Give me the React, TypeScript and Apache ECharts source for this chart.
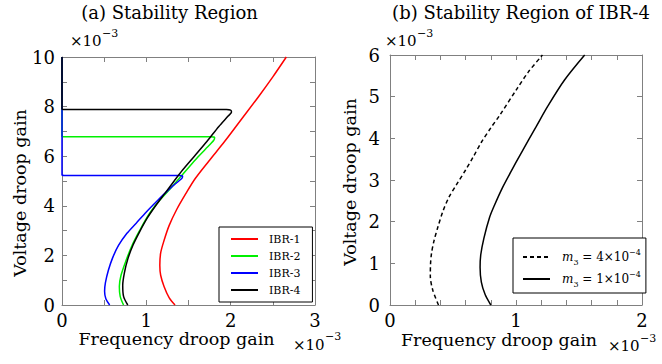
import React, { useEffect, useRef } from 'react';
import * as echarts from 'echarts';

// All values in units of 1e-3 (x: frequency droop gain, y: voltage droop gain)
const ibr1: number[][] = [
  [1.34, 0], [1.27, 0.3], [1.21, 0.75], [1.17, 1.2], [1.16, 1.6], [1.17, 2.1], [1.21, 2.6],
  [1.27, 3.2], [1.36, 3.85], [1.47, 4.5], [1.58, 5.1], [1.74, 5.8], [1.93, 6.6], [2.13, 7.5],
  [2.33, 8.4], [2.5, 9.2], [2.66, 10],
];
const ibr2: number[][] = [
  [0, 10], [0, 6.8], [0, 6.78], [0.03, 6.78], [1.76, 6.78], [1.81, 6.75], [1.8, 6.64], [1.7, 6.28],
  [1.58, 5.85], [1.44, 5.3], [1.3, 4.75], [1.16, 4.23], [1.03, 3.65], [0.92, 3.0], [0.83, 2.4],
  [0.76, 1.8], [0.7, 1.2], [0.68, 0.75], [0.69, 0.35], [0.73, 0],
];
const ibr3: number[][] = [
  [0, 10], [0, 5.24], [0, 5.22], [0.03, 5.22], [1.39, 5.22], [1.43, 5.19], [1.42, 5.1], [1.35, 4.9],
  [1.25, 4.6], [1.13, 4.2], [1.0, 3.75], [0.88, 3.3], [0.77, 2.89], [0.67, 2.4], [0.6, 1.9],
  [0.55, 1.4], [0.515, 0.9], [0.505, 0.55], [0.52, 0.25], [0.565, 0],
];
const ibr4: number[][] = [
  [0, 10], [0, 7.9], [0, 7.88], [0.03, 7.88], [1.95, 7.88], [2.0, 7.86], [2.01, 7.78], [1.97, 7.62],
  [1.86, 7.2], [1.72, 6.6], [1.57, 6.0], [1.43, 5.44], [1.33, 5.0], [1.22, 4.5], [1.11, 4.0],
  [1.01, 3.5], [0.92, 2.95], [0.84, 2.4], [0.78, 1.85], [0.74, 1.3], [0.72, 0.8], [0.73, 0.35], [0.78, 0],
];
const m3High: number[][] = [
  [0.385, 0], [0.34, 0.35], [0.32, 0.7], [0.322, 1.0], [0.33, 1.25], [0.35, 1.55], [0.38, 1.87],
  [0.42, 2.25], [0.47, 2.6], [0.53, 2.9], [0.6, 3.24], [0.66, 3.55], [0.724, 3.9], [0.8, 4.25],
  [0.87, 4.55], [1.01, 5.2], [1.1, 5.6], [1.21, 6.0],
];
const m3Low: number[][] = [
  [0.8, 0], [0.755, 0.25], [0.725, 0.55], [0.715, 0.9], [0.72, 1.2], [0.745, 1.6], [0.79, 2.1],
  [0.83, 2.4], [0.89, 2.8], [0.96, 3.2], [1.04, 3.64], [1.16, 4.28], [1.25, 4.76], [1.385, 5.4], [1.545, 6.0],
];

const leftNames = ['IBR-1', 'IBR-2', 'IBR-3', 'IBR-4'];
const leftColors = ['#ff0000', '#00f000', '#0000ff', '#000000'];
const rightNames = ['m3 = 4x10^-4', 'm3 = 1x10^-4'];
const leftXLabels = [0, 1, 2, 3];
const leftYLabels = [0, 2, 4, 6, 8, 10];
const rightXLabels = [0, 1, 2];
const rightYLabels = [0, 1, 2, 3, 4, 5, 6];

const FONT = 'DejaVu Serif';
const FRAME = '#808080';

function labelFmt(list: number[]) {
  return (v: number) => {
    const hit = list.find((l) => Math.abs(l - v) < 1e-9);
    return hit === undefined ? '' : String(hit);
  };
}

export default function App() {
  const ref = useRef<HTMLDivElement>(null);
  useEffect(() => {
    const chart = echarts.init(ref.current!, null, { renderer: 'svg' });

    const tick = { show: true, inside: true, length: 5, lineStyle: { color: FRAME, width: 1 } };
    const line = { show: true, onZero: false, lineStyle: { color: FRAME, width: 1 } };
    const lab = (list: number[], margin: number, extra: any = {}) => ({
      show: true, margin, fontFamily: FONT, fontSize: 18, color: '#000',
      formatter: labelFmt(list), showMinLabel: true, showMaxLabel: true, ...extra,
    });
    const xAx = (grid: number, max: number, interval: number, list: number[]) => [
      { type: 'value', gridIndex: grid, min: 0, max, interval, position: 'bottom', axisLine: line, axisTick: tick, axisLabel: lab(list, 6), splitLine: { show: false } },
      { type: 'value', gridIndex: grid, min: 0, max, interval, position: 'top', axisLine: line, axisTick: tick, axisLabel: { show: false }, splitLine: { show: false } },
    ];
    const yAx = (grid: number, max: number, list: number[], margin: number) => [
      { type: 'value', gridIndex: grid, min: 0, max, interval: 1, position: 'left', axisLine: line, axisTick: tick, axisLabel: lab(list, margin, { padding: [3, 0, 0, 0] }), splitLine: { show: false } },
      { type: 'value', gridIndex: grid, min: 0, max, interval: 1, position: 'right', axisLine: line, axisTick: tick, axisLabel: { show: false }, splitLine: { show: false } },
    ];

    const leftData = [ibr1, ibr2, ibr3, ibr4];
    const series: any[] = leftData.map((d, i) => ({
      name: leftNames[i], type: 'line', xAxisIndex: 0, yAxisIndex: 0, data: d,
      symbol: 'none', smooth: 0.3, clip: false,
      lineStyle: { color: leftColors[i], width: 1.5 }, itemStyle: { color: leftColors[i] },
    }));
    series.push({
      name: rightNames[0], type: 'line', xAxisIndex: 2, yAxisIndex: 2, data: m3High,
      symbol: 'none', smooth: 0.3, clip: false,
      lineStyle: { color: '#000', width: 1.5, type: [4, 3] }, itemStyle: { color: '#000' },
    });
    series.push({
      name: rightNames[1], type: 'line', xAxisIndex: 2, yAxisIndex: 2, data: m3Low,
      symbol: 'none', smooth: 0.3, clip: false,
      lineStyle: { color: '#000', width: 1.5 }, itemStyle: { color: '#000' },
    });

    const txt = (x: number, y: number, text: string, size: number, align = 'left', rotation = 0) => ({
      type: 'text', x, y, rotation, silent: true,
      style: {
        text, fontSize: size, fontFamily: FONT, fill: '#000',
        align, verticalAlign: 'middle', textAlign: align, textVerticalAlign: 'middle',
      },
    });

    chart.setOption({
      animation: false,
      backgroundColor: '#fff',
      textStyle: { fontFamily: FONT },
      grid: [
        { left: 62, top: 57, width: 253, height: 248 },
        { left: 390, top: 55, width: 252, height: 250 },
      ],
      xAxis: [...xAx(0, 3, 0.5, leftXLabels), ...xAx(1, 2, 0.2, rightXLabels)],
      yAxis: [...yAx(0, 10, leftYLabels, 7), ...yAx(1, 6, rightYLabels, 10)],
      legend: [
        {
          data: leftNames, orient: 'vertical', left: 219, top: 227,
          padding: [5, 12, 5, 11], itemGap: 3, itemWidth: 27, itemHeight: 14,
          borderColor: '#000', borderWidth: 1, backgroundColor: '#fff', selectedMode: false,
          lineStyle: { width: 2 }, itemStyle: { opacity: 0 },
          textStyle: { fontFamily: FONT, fontSize: 11, lineHeight: 14, color: '#000', padding: [0, 0, 0, 6] },
        },
        {
          data: rightNames, orient: 'vertical', left: 513, top: 238,
          padding: [10, 5, 5, 9], itemGap: 4, itemWidth: 27, itemHeight: 14,
          borderColor: '#000', borderWidth: 1, backgroundColor: '#fff', selectedMode: false,
          lineStyle: { width: 2 }, itemStyle: { opacity: 0 },
          formatter: (name: string) =>
            name === rightNames[0] ? '{m|m}{s|3}{t| = 4×10}{p|−4}' : '{m|m}{s|3}{t| = 1×10}{p|−4}',
          textStyle: {
            fontFamily: FONT, fontSize: 12, color: '#000', padding: [0, 0, 0, 7],
            rich: {
              m: { fontFamily: FONT, fontSize: 12, fontStyle: 'italic', lineHeight: 18, color: '#000' },
              s: { fontFamily: FONT, fontSize: 8, lineHeight: 9, verticalAlign: 'bottom', color: '#000' },
              t: { fontFamily: FONT, fontSize: 12, lineHeight: 18, color: '#000' },
              p: { fontFamily: FONT, fontSize: 8, lineHeight: 9, verticalAlign: 'top', color: '#000' },
            },
          },
        },
      ],
      graphic: [
        txt(169.5, 12, '(a) Stability Region', 18, 'center'),
        txt(521, 12, '(b) Stability Region of IBR-4', 18, 'center'),
        txt(70, 41, '×10', 15),
        txt(102, 33, '−3', 11),
        txt(385, 41, '×10', 15),
        txt(417, 33, '−3', 11),
        txt(293, 345, '×10', 15),
        txt(325, 336, '−3', 11),
        txt(608, 346, '×10', 15),
        txt(640, 338, '−3', 11),
        txt(176.5, 339, 'Frequency droop gain', 17.5, 'center'),
        txt(499, 340, 'Frequency droop gain', 17.5, 'center'),
        txt(20, 193, 'Voltage droop gain', 17.5, 'center', Math.PI / 2),
        txt(349.5, 182, 'Voltage droop gain', 17.5, 'center', Math.PI / 2),
      ],
      series,
    });
    return () => chart.dispose();
  }, []);
  return <div ref={ref} style={{ position: 'absolute', left: 0, top: 0, width: 662, height: 364 }} />;
}
